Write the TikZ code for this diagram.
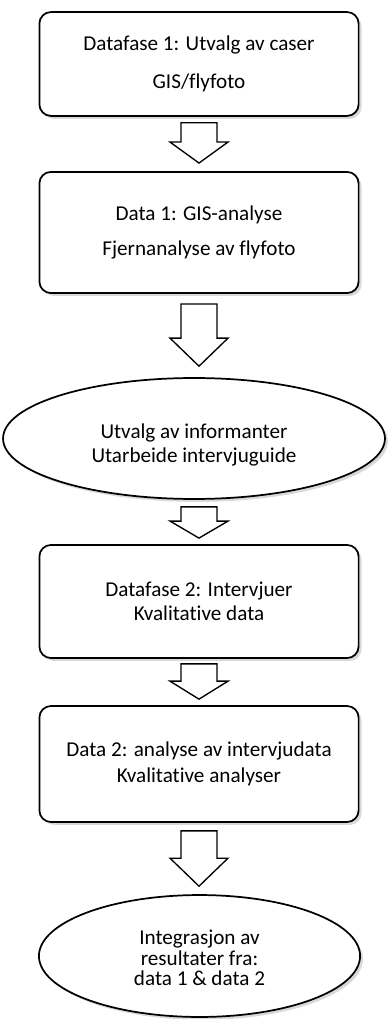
\documentclass[tikz,border=0pt]{standalone}
\usepackage{fontspec}
\setmainfont{Carlito}[Ligatures=NoCommon]
\usetikzlibrary{shapes.geometric,shadows,calc}

\tikzset{
  phase/.style={rectangle,rounded corners=6pt,draw,line width=0.9pt,fill=white,
    minimum width=166pt,align=center,
    font=\fontsize{11pt}{12.5pt}\selectfont,
    drop shadow={opacity=0.3,shadow xshift=1.5pt,shadow yshift=-1.5pt}},
  phaseoval/.style={ellipse,draw,line width=0.9pt,fill=white,
    font=\fontsize{11pt}{12.5pt}\selectfont,
    drop shadow={opacity=0.3,shadow xshift=1.5pt,shadow yshift=-1.5pt}},
  blockarrow/.style={draw,line width=0.7pt,fill=white,line join=miter}
}
% text set a little below the middle of the shape
\newcommand{\lowtext}[2]{\raisebox{-#1}[\height][\depth]{%
  \begin{tabular}{@{}c@{}}#2\end{tabular}}}
% #1 from, #2 to, #3 gap at top, #4 gap at tip, #5 head length (px)
\newcommand{\downblock}[5]{%
  \draw[blockarrow] ($(d1.south |- #1.south)+(-18,#3)$)
    -- ($(d1.south |- #2.north)+(-18,-#4-#5)$)
    -- ($(d1.south |- #2.north)+(-29,-#4-#5)$)
    -- ($(d1.south |- #2.north)+(0,-#4)$)
    -- ($(d1.south |- #2.north)+(29,-#4-#5)$)
    -- ($(d1.south |- #2.north)+(18,-#4-#5)$)
    -- ($(d1.south |- #1.south)+(18,#3)$) -- cycle;}

\begin{document}
\begin{tikzpicture}[x=0.52pt,y=-0.52pt]
\useasboundingbox (0,0) rectangle (387,1019);

\path (199,64) node[phase,minimum height=54pt] (d1)
  {Datafase 1: Utvalg av caser\\[7pt]GIS/flyfoto};
\path (199,232.5) node[phase,minimum height=63pt] (d2)
  {Data 1: GIS-analyse\\[5.5pt]Fjernanalyse av flyfoto};
\path (194,438.5) node[phaseoval,minimum width=198.6pt,minimum height=62.9pt] (inf)
  {\lowtext{3.5pt}{Utvalg av informanter\\Utarbeide intervjuguide}};
\path (199,601.5) node[phase,minimum height=58.8pt] (d3)
  {Datafase 2: Intervjuer\\Kvalitative data};
\path (199,764) node[phase,minimum height=60.3pt] (d4)
  {Data 2: analyse av intervjudata\\[1pt]Kvalitative analyser};
\path (199.5,956) node[phaseoval,minimum width=167pt,minimum height=63.4pt,
  font=\fontsize{11pt}{10pt}\selectfont] (int)
  {\lowtext{2.5pt}{Integrasjon av\\resultater fra:\\data 1 \& data 2}};

\downblock{d1}{d2}{6}{8}{21}
\downblock{d2}{inf}{10}{11}{28}
\downblock{inf}{d3}{7}{6}{17}
\downblock{d3}{d4}{5}{6}{18}
\downblock{d4}{int}{8}{8}{28}
\end{tikzpicture}
\end{document}
